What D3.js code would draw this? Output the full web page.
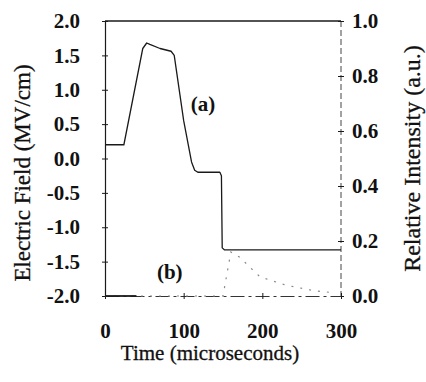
<!DOCTYPE html>
<html>
<head>
<meta charset="utf-8">
<script src="https://cdn.jsdelivr.net/npm/d3@7"></script>
<style>
  body { margin: 0; background: #fff; }
  text { font-family: "Liberation Serif", "Times New Roman", serif; fill: #111; }
</style>
</head>
<body>
<div id="chart"></div>
<script>
// curve (a): electric field pulse
const timeA = [0, 24, 48, 53, 57, 70, 84, 88, 100, 110, 114, 118, 146, 148, 149, 152, 300];
const fieldA = [0.2, 0.2, 1.6, 1.68, 1.66, 1.6, 1.56, 1.5, 0.55, -0.05, -0.17, -0.2, -0.2, -0.25, -1.3, -1.33, -1.33];

// curve (b): relative intensity
const timeB = [0, 150, 160, 172, 184, 197, 229, 264, 290];
const intensB = [0, 0, 0.16, 0.14, 0.105, 0.07, 0.04, 0.02, 0.012];

const fieldTicks = [-2.0, -1.5, -1.0, -0.5, 0.0, 0.5, 1.0, 1.5, 2.0];
const intensTicks = [0.0, 0.2, 0.4, 0.6, 0.8, 1.0];
const timeTicks = [0, 100, 200, 300];

const width = 426, height = 382;
const margin = { left: 105, right: 85, top: 21, bottom: 86 };

const svg = d3.select('#chart').append('svg')
  .attr('width', width)
  .attr('height', height);

const x = d3.scaleLinear().domain([0, 300]).range([margin.left, width - margin.right]);
const yL = d3.scaleLinear().domain([-2, 2]).range([height - margin.bottom, margin.top]);
const yR = d3.scaleLinear().domain([0, 1]).range([height - margin.bottom, margin.top]);

const ink = '#1a1a1a';

// frame
svg.append('line')
  .attr('x1', x(0)).attr('x2', x(300))
  .attr('y1', yL(2)).attr('y2', yL(2))
  .attr('stroke', ink).attr('stroke-width', 1.3);
svg.append('line')
  .attr('x1', x(300)).attr('x2', x(300))
  .attr('y1', yL(2)).attr('y2', yL(-2))
  .attr('stroke', '#444').attr('stroke-width', 1).attr('stroke-dasharray', '6,3');

// left axis
const gL = svg.append('g')
  .attr('transform', `translate(${x(0)},0)`)
  .call(d3.axisLeft(yL).tickValues(fieldTicks).tickSizeInner(3).tickSizeOuter(0).tickPadding(22));
gL.selectAll('.tick line').attr('x1', 3).attr('stroke', ink);
gL.select('.domain').attr('stroke', ink).attr('stroke-width', 1.2);
gL.selectAll('.tick text')
  .style('font-size', '21px').style('font-weight', 'bold')
  .text(d => d3.format('.1f')(d).replace('−', '-'));

// right axis
const gR = svg.append('g')
  .attr('transform', `translate(${x(300)},0)`)
  .call(d3.axisRight(yR).tickValues(intensTicks).tickFormat(d3.format('.1f')).tickSizeInner(3).tickSizeOuter(0).tickPadding(8));
gR.selectAll('.tick line').attr('x1', -3).attr('stroke', ink);
gR.select('.domain').remove();
gR.selectAll('.tick text').style('font-size', '21px').style('font-weight', 'bold');

// bottom axis
const gB = svg.append('g')
  .attr('transform', `translate(0,${yL(-2)})`)
  .call(d3.axisBottom(x).tickValues(timeTicks).tickSizeInner(3).tickSizeOuter(0).tickPadding(24));
gB.selectAll('.tick line').attr('y1', -3).attr('stroke', ink);
gB.select('.domain').attr('stroke', '#333').attr('stroke-width', 1.1).attr('stroke-dasharray', '14,4,3,4');
gB.selectAll('.tick text').style('font-size', '21px').style('font-weight', 'bold');

// curve (b)
const lineB = d3.line().x((d, i) => x(timeB[i])).y((d, i) => yR(intensB[i]));
svg.append('path')
  .datum(intensB)
  .attr('d', lineB)
  .attr('fill', 'none')
  .attr('stroke', '#888')
  .attr('stroke-width', 1.2)
  .attr('stroke-dasharray', '2,7');
svg.append('line')
  .attr('x1', x(timeB[0])).attr('x2', x(40))
  .attr('y1', yR(0)).attr('y2', yR(0))
  .attr('stroke', ink).attr('stroke-width', 1.8);

// curve (a)
const lineA = d3.line().x((d, i) => x(timeA[i])).y((d, i) => yL(fieldA[i]));
svg.append('path')
  .datum(fieldA)
  .attr('d', lineA)
  .attr('fill', 'none')
  .attr('stroke', ink)
  .attr('stroke-width', 1.3)
  .attr('stroke-linejoin', 'round');

// curve labels
svg.append('text')
  .attr('x', x(109)).attr('y', yL(0.69))
  .style('font-size', '21px').style('font-weight', 'bold')
  .text('(a)');
svg.append('text')
  .attr('x', x(66)).attr('y', yL(-1.75))
  .style('font-size', '21px').style('font-weight', 'bold')
  .text('(b)');

// axis titles
svg.append('text')
  .attr('transform', `translate(30,173) rotate(-90)`)
  .attr('text-anchor', 'middle')
  .style('font-size', '23px')
  .attr('stroke', '#111').attr('stroke-width', 0.3)
  .text('Electric Field (MV/cm)');
svg.append('text')
  .attr('transform', `translate(420,${(yL(2) + yL(-2)) / 2}) rotate(-90)`)
  .attr('text-anchor', 'middle')
  .style('font-size', '24px')
  .attr('stroke', '#111').attr('stroke-width', 0.3)
  .text('Relative Intensity (a.u.)');
svg.append('text')
  .attr('x', 210)
  .attr('y', 360)
  .attr('text-anchor', 'middle')
  .style('font-size', '21px')
  .attr('stroke', '#111').attr('stroke-width', 0.3)
  .text('Time (microseconds)');
</script>
</body>
</html>
